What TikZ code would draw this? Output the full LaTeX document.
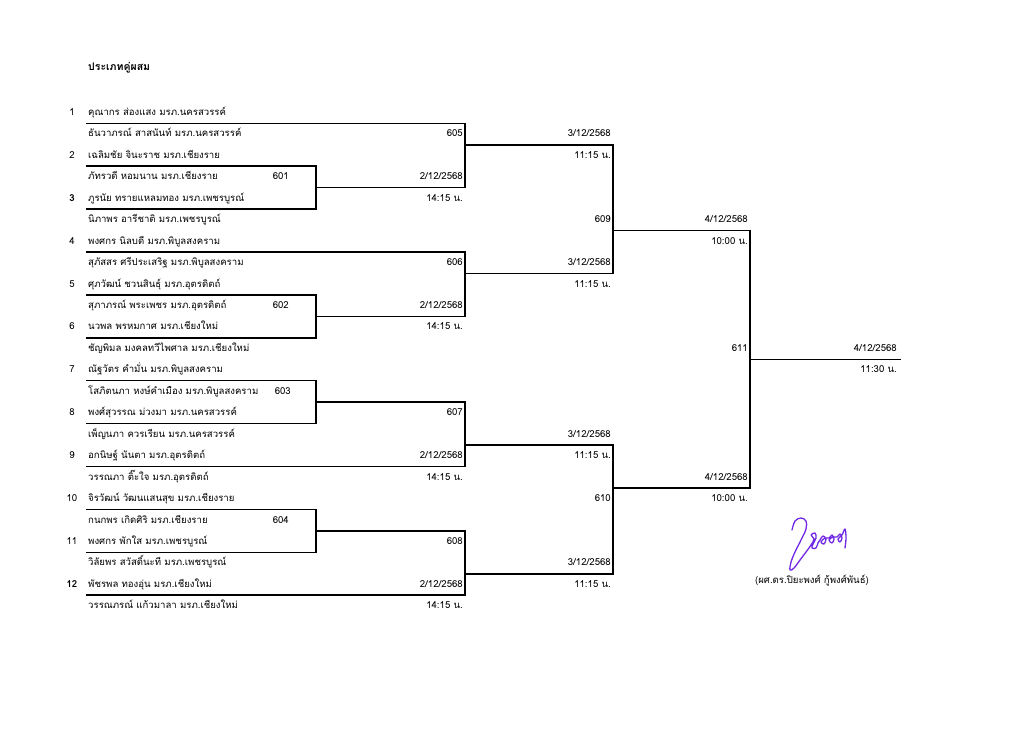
\documentclass[tikz,border=0pt]{standalone}
\usepackage{fontspec}
\newfontfamily\thaifont[Script=Thai]{Loma}
\definecolor{sigcol}{RGB}{112,40,230}
\newcommand{\txtfont}{\thaifont\fontsize{9.6}{11}\selectfont}
\tikzset{
  txt/.style={font=\txtfont, inner sep=0pt, text height=5.8pt, text depth=0pt},
  nm/.style={txt, anchor=west},
  rt/.style={txt, anchor=east},
  num/.style={txt, anchor=center},
  bnum/.style={num, font=\thaifont\bfseries\fontsize{9.6}{11}\selectfont},
  brk/.style={line width=1.5pt, line join=miter, line cap=rect},
  sig/.style={draw=sigcol, line width=1.3pt, line cap=round, line join=round},
}
\begin{document}
\begin{tikzpicture}
\useasboundingbox (0pt,0pt) rectangle (1024pt,-734pt);
\fill[white] (0pt,0pt) rectangle (1024pt,-734pt);
\node[txt, anchor=west, font=\thaifont\bfseries\fontsize{10.5}{12}\selectfont] (title) at (88pt,-68pt) {ประเภทคู่ผสม};
\begin{scope}[x=1pt, y=-21.45pt, yshift=-101.85pt]
% numbers
\node[num] (n1) at (72,0.5) {1};
\node[num] (n2) at (72,2.5) {2};
\node[bnum] (n3) at (72,4.5) {3};
\node[num] (n4) at (72,6.5) {4};
\node[num] (n5) at (72,8.5) {5};
\node[num] (n6) at (72,10.5) {6};
\node[num] (n7) at (72,12.5) {7};
\node[num] (n8) at (72,14.5) {8};
\node[num] (n9) at (72,16.5) {9};
\node[num] (n10) at (72,18.5) {10};
\node[num] (n11) at (72,20.5) {11};
\node[bnum] (n12) at (72,22.5) {12};
% names
\node[nm] (p1) at (88,0.5) {คุณากร ส่องแสง มรภ.นครสวรรค์};
\node[nm] (p2) at (88,1.5) {ธันวาภรณ์ สาสนันท์ มรภ.นครสวรรค์};
\node[nm] (p3) at (88,2.5) {เฉลิมชัย จินะราช มรภ.เชียงราย};
\node[nm] (p4) at (88,3.5) {ภัทรวดี หอมนาน มรภ.เชียงราย};
\node[nm] (p5) at (88,4.5) {ภูรนัย ทรายแหลมทอง มรภ.เพชรบูรณ์};
\node[nm] (p6) at (88,5.5) {นิภาพร อารีชาติ มรภ.เพชรบูรณ์};
\node[nm] (p7) at (88,6.5) {พงศกร นิลบดี มรภ.พิบูลสงคราม};
\node[nm] (p8) at (88,7.5) {สุภัสสร ศรีประเสริฐ มรภ.พิบูลสงคราม};
\node[nm] (p9) at (88,8.5) {ศุภวัฒน์ ชวนสินธุ์ มรภ.อุตรดิตถ์};
\node[nm] (p10) at (88,9.5) {สุภาภรณ์ พระเพชร มรภ.อุตรดิตถ์};
\node[nm] (p11) at (88,10.5) {นวพล พรหมกาศ มรภ.เชียงใหม่};
\node[nm] (p12) at (88,11.5) {ชัญพิมล มงคลทวีไพศาล มรภ.เชียงใหม่};
\node[nm] (p13) at (88,12.5) {ณัฐวัตร คำมั่น มรภ.พิบูลสงคราม};
\node[nm] (p14) at (88,13.5) {โสภิตนภา หงษ์คำเมือง มรภ.พิบูลสงคราม};
\node[nm] (p15) at (88,14.5) {พงศ์สุวรรณ ม่วงมา มรภ.นครสวรรค์};
\node[nm] (p16) at (88,15.5) {เพ็ญนภา ควรเรียน มรภ.นครสวรรค์};
\node[nm] (p17) at (88,16.5) {อกนิษฐ์ นันตา มรภ.อุตรดิตถ์};
\node[nm] (p18) at (88,17.5) {วรรณภา ติ๊ะใจ มรภ.อุตรดิตถ์};
\node[nm] (p19) at (88,18.5) {จิรวัฒน์ วัฒนแสนสุข มรภ.เชียงราย};
\node[nm] (p20) at (88,19.5) {กนกพร เกิดศิริ มรภ.เชียงราย};
\node[nm] (p21) at (88,20.5) {พงศกร พักใส มรภ.เพชรบูรณ์};
\node[nm] (p22) at (88,21.5) {วิลัยพร สวัสดิ์นะที มรภ.เพชรบูรณ์};
\node[nm] (p23) at (88,22.5) {พัชรพล ทองอุ่น มรภ.เชียงใหม่};
\node[nm] (p24) at (88,23.5) {วรรณภรณ์ แก้วมาลา มรภ.เชียงใหม่};
% bracket corner coordinates
\coordinate (a601) at (87,3);  \coordinate (b601) at (316,3);
\coordinate (c601) at (316,5); \coordinate (d601) at (87,5);
\coordinate (m601) at (316,4);
\coordinate (a602) at (87,9);  \coordinate (b602) at (316,9);
\coordinate (c602) at (316,11); \coordinate (d602) at (87,11);
\coordinate (m602) at (316,10);
\coordinate (a603) at (87,13);  \coordinate (b603) at (316,13);
\coordinate (c603) at (316,15); \coordinate (d603) at (87,15);
\coordinate (m603) at (316,14);
\coordinate (a604) at (87,19);  \coordinate (b604) at (316,19);
\coordinate (c604) at (316,21); \coordinate (d604) at (87,21);
\coordinate (m604) at (316,20);
\coordinate (a605) at (87,1); \coordinate (b605) at (465,1); \coordinate (c605) at (465,4);
\coordinate (o605) at (465,2);
\coordinate (a606) at (87,7); \coordinate (b606) at (465,7); \coordinate (c606) at (465,10);
\coordinate (o606) at (465,8);
\coordinate (b607) at (465,14); \coordinate (c607) at (465,17); \coordinate (d607) at (87,17);
\coordinate (o607) at (465,16);
\coordinate (b608) at (465,20); \coordinate (c608) at (465,23); \coordinate (d608) at (87,23);
\coordinate (o608) at (465,22);
\coordinate (b609) at (613,2); \coordinate (c609) at (613,8); \coordinate (o609) at (613,6);
\coordinate (b610) at (613,16); \coordinate (c610) at (613,22); \coordinate (o610) at (613,18);
\coordinate (b611) at (750,6); \coordinate (c611) at (750,18); \coordinate (o611) at (750,12);
\coordinate (fin) at (900,12);
% brackets
\draw[brk] (a601) -- (b601) -- (c601) -- (d601);
\draw[brk] (a602) -- (b602) -- (c602) -- (d602);
\draw[brk] (a603) -- (b603) -- (c603) -- (d603);
\draw[brk] (a604) -- (b604) -- (c604) -- (d604);
\draw[brk] (a605) -- (b605) -- (c605) -- (m601);
\draw[brk] (a606) -- (b606) -- (c606) -- (m602);
\draw[brk] (m603) -- (b607) -- (c607) -- (d607);
\draw[brk] (m604) -- (b608) -- (c608) -- (d608);
\draw[brk] (o605) -- (b609) -- (c609) -- (o606);
\draw[brk] (o607) -- (b610) -- (c610) -- (o608);
\draw[brk] (o609) -- (b611) -- (c611) -- (o610);
\draw[brk] (o611) -- (fin);
% first round labels
\node[rt] (l601) at (289,3.5) {601};
\node[rt] (l602) at (289,9.5) {602};
\node[rt] (l603) at (291,13.5) {603};
\node[rt] (l604) at (289,19.5) {604};
% second round labels
\node[rt] (l605) at (463,1.5) {605};
\node[rt] (d605) at (463,3.5) {2/12/2568};
\node[rt] (t605) at (463,4.5) {14:15 น.};
\node[rt] (l606) at (463,7.5) {606};
\node[rt] (d606) at (463,9.5) {2/12/2568};
\node[rt] (t606) at (463,10.5) {14:15 น.};
\node[rt] (l607) at (463,14.5) {607};
\node[rt] (d607l) at (463,16.5) {2/12/2568};
\node[rt] (t607) at (463,17.5) {14:15 น.};
\node[rt] (l608) at (463,20.5) {608};
\node[rt] (d608l) at (463,22.5) {2/12/2568};
\node[rt] (t608) at (463,23.5) {14:15 น.};
% third round labels
\node[rt] (d609a) at (611,1.5) {3/12/2568};
\node[rt] (t609a) at (611,2.5) {11:15 น.};
\node[rt] (l609) at (611,5.5) {609};
\node[rt] (d609b) at (611,7.5) {3/12/2568};
\node[rt] (t609b) at (611,8.5) {11:15 น.};
\node[rt] (d610a) at (611,15.5) {3/12/2568};
\node[rt] (t610a) at (611,16.5) {11:15 น.};
\node[rt] (l610) at (611,18.5) {610};
\node[rt] (d610b) at (611,21.5) {3/12/2568};
\node[rt] (t610b) at (611,22.5) {11:15 น.};
% semifinal labels
\node[rt] (d611a) at (748,5.5) {4/12/2568};
\node[rt] (t611a) at (748,6.5) {10:00 น.};
\node[rt] (l611) at (748,11.5) {611};
\node[rt] (d611b) at (748,17.5) {4/12/2568};
\node[rt] (t611b) at (748,18.5) {10:00 น.};
% final labels
\node[rt] (dfin) at (897,11.5) {4/12/2568};
\node[rt] (tfin) at (897,12.5) {11:30 น.};
\end{scope}
% signature
\begin{scope}[x=1pt, y=-1pt]
\draw[sig] plot[smooth, tension=0.6] coordinates {(792,530) (795,521) (801,518) (806,521) (806,529) (801,540) (795,552) (791,562) (790,570) (794,568) (800,560) (806,552) (811,545) (814,539) (811,535) (815,533) (816,538) (813,544) (812,548) (816,548) (818,543) (820,540) (823,536) (826,539) (824,544) (821,542) (825,538) (829,538) (832,535) (834,539) (832,543) (829,540) (833,537) (837,537) (840,534) (842,538) (840,542) (838,539) (842,535) (845,529) (846,538) (845,548)};
\node[txt, anchor=center] (signame) at (812,581) {(ผศ.ดร.ปิยะพงศ์ กู้พงศ์พันธ์)};
\end{scope}
\end{tikzpicture}
\end{document}
